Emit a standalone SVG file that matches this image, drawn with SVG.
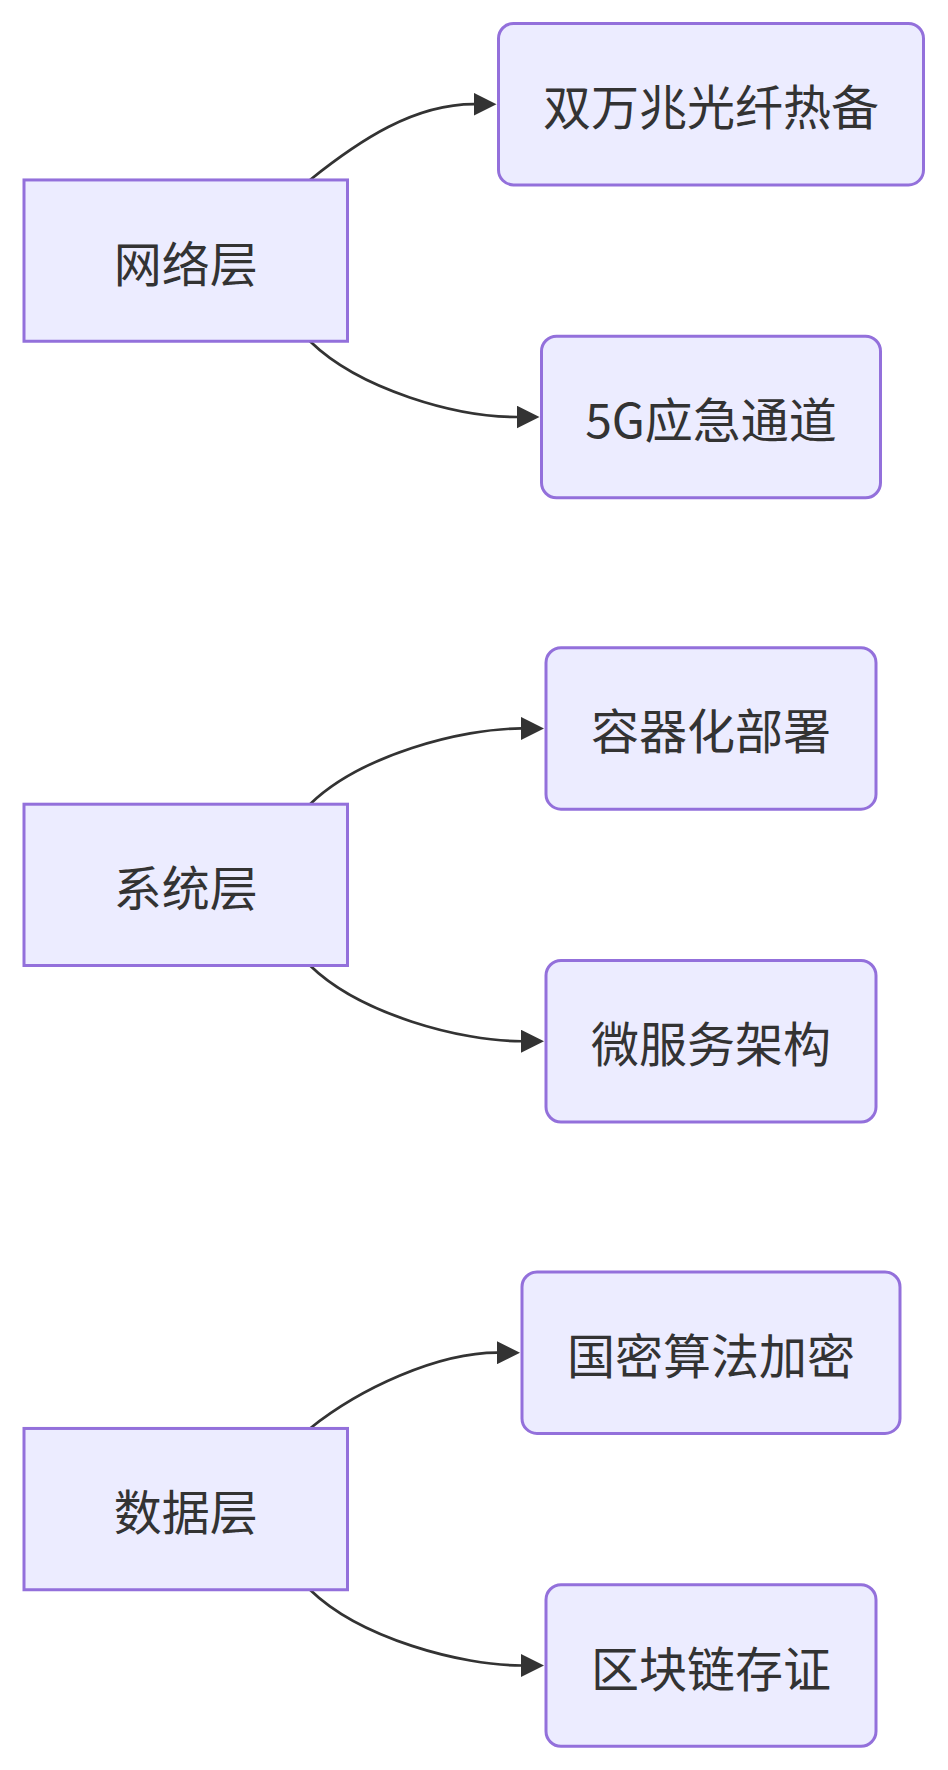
<svg xmlns="http://www.w3.org/2000/svg" width="948" height="1770" viewBox="0 0 948 1770">
<style>
.node rect{fill:#ECECFF;stroke:#9370DB;stroke-width:3}
.node text{font-family:"Noto Sans CJK SC","Noto Sans",sans-serif;font-size:48px;fill:#333333;text-anchor:middle;dominant-baseline:central}
.edge{fill:none;stroke:#333333;stroke-width:2.7;marker-end:url(#arrow)}
</style>
<defs>
<marker id="arrow" markerUnits="userSpaceOnUse" viewBox="0 0 23 23" refX="0.5" refY="11.5" markerWidth="23" markerHeight="23" orient="auto">
<path d="M0,0 L23,11.5 L0,23 z" fill="#333333"/>
</marker>
</defs>
<rect width="948" height="1770" fill="#ffffff"/>
<g id="edges">
<path class="edge" d="M310,179.95 C360,139.95 414,104.2 474,104.2"/>
<path class="edge" d="M310,341.25 C360,390 457,417 517,417"/>
<path class="edge" d="M310,804.2 C360,755.4 461.5,728.45 521.5,728.45"/>
<path class="edge" d="M310,965.5 C360,1014.3 461.5,1041.25 521.5,1041.25"/>
<path class="edge" d="M310,1428.45 C360,1388.45 437.5,1352.7 497.5,1352.7"/>
<path class="edge" d="M310,1589.75 C360,1638.5 461.5,1665.5 521.5,1665.5"/>
</g>
<g id="net" class="node"><rect x="24" y="179.95" width="323.5" height="161.3"/><text x="185.75" y="260.6">网络层</text></g>
<g id="fiber" class="node"><rect x="498.5" y="23.45" width="425" height="161.5" rx="15" ry="15"/><text x="711" y="104.2">双万兆光纤热备</text></g>
<g id="g5" class="node"><rect x="541.5" y="336.25" width="339" height="161.5" rx="15" ry="15"/><text x="711" y="417">5G应急通道</text></g>
<g id="sys" class="node"><rect x="24" y="804.2" width="323.5" height="161.3"/><text x="185.75" y="884.85">系统层</text></g>
<g id="container" class="node"><rect x="546" y="647.7" width="330" height="161.5" rx="15" ry="15"/><text x="711" y="728.45">容器化部署</text></g>
<g id="micro" class="node"><rect x="546" y="960.5" width="330" height="161.5" rx="15" ry="15"/><text x="711" y="1041.25">微服务架构</text></g>
<g id="data" class="node"><rect x="24" y="1428.45" width="323.5" height="161.3"/><text x="185.75" y="1509.1">数据层</text></g>
<g id="crypto" class="node"><rect x="522" y="1271.95" width="378" height="161.5" rx="15" ry="15"/><text x="711" y="1352.7">国密算法加密</text></g>
<g id="chain" class="node"><rect x="546" y="1584.75" width="330" height="161.5" rx="15" ry="15"/><text x="711" y="1665.5">区块链存证</text></g>
</svg>
